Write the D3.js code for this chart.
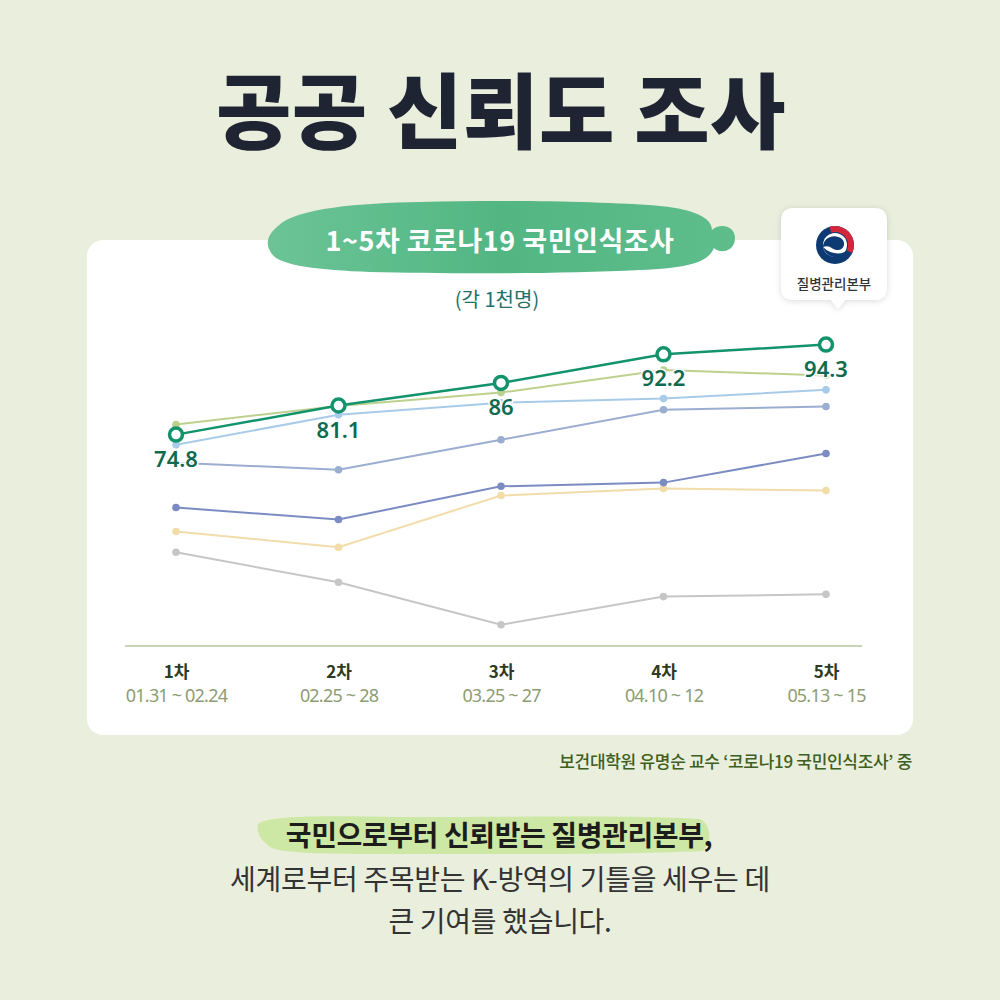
<!DOCTYPE html>
<html>
<head>
<meta charset="utf-8">
<script src="https://cdn.jsdelivr.net/npm/d3@7"></script>
<style>
html,body{margin:0;padding:0;background:#e9eedd;}
svg{display:block;}
</style>
</head>
<body>
<svg id="chart" width="1000" height="1000"></svg>
<script>
// ---------- data ----------
const rounds = ["1차", "2차", "3차", "4차", "5차"];
const dates = ["01.31 ~ 02.24", "02.25 ~ 28", "03.25 ~ 27", "04.10 ~ 12", "05.13 ~ 15"];
const kdca = [74.8, 81.1, 86, 92.2, 94.3];
const seriesLightGreen = [77.0, 81.0, 83.9, 88.8, 87.6];
const seriesLightBlue = [72.6, 79.1, 81.7, 82.6, 84.5];
const seriesSteel = [68.7, 67.2, 73.7, 80.2, 80.9];
const seriesNavy = [59.0, 56.4, 63.6, 64.4, 70.7];
const seriesYellow = [53.8, 50.4, 61.6, 63.1, 62.7];
const seriesGray = [49.3, 42.8, 33.6, 39.7, 40.2];
const yDomain = [29, 100];

const svg = d3.select("#chart");
const KR = "'Noto Sans CJK KR','Noto Sans',sans-serif";

const defs = svg.append("defs");
const sh = defs.append("filter").attr("id", "shadow").attr("x", "-30%").attr("y", "-30%").attr("width", "160%").attr("height", "160%");
sh.append("feDropShadow").attr("dx", 0).attr("dy", 1).attr("stdDeviation", 3)
  .attr("flood-color", "#000000").attr("flood-opacity", 0.15);

// background
svg.append("rect").attr("width", 1000).attr("height", 1000).attr("fill", "#e9eedd");

// title
svg.append("text").attr("x", 501).attr("y", 106)
  .attr("text-anchor", "middle").attr("dominant-baseline", "central")
  .attr("font-family", KR).attr("font-weight", 900).attr("font-size", 82)
  .attr("letter-spacing", 0.5).attr("fill", "#1f2433")
  .text("공공 신뢰도 조사");

// card
svg.append("rect").attr("x", 87).attr("y", 240).attr("width", 826).attr("height", 495)
  .attr("rx", 16).attr("fill", "#ffffff");

// banner (watercolor brush)
const g1 = defs.append("linearGradient").attr("id", "bann").attr("x1", 0).attr("x2", 1).attr("y1", 0).attr("y2", 0);
g1.append("stop").attr("offset", "0").attr("stop-color", "#6cc496");
g1.append("stop").attr("offset", "0.5").attr("stop-color", "#52b683");
g1.append("stop").attr("offset", "1").attr("stop-color", "#5fbd8c");
svg.append("path")
  .attr("d", "M278,226 C296,208 360,203 420,202 C500,200 600,201 660,206 C700,210 712,220 712,230 C720,222 736,226 735,239 C734,252 720,254 714,248 C708,262 690,268 640,270 C560,274 450,274 370,272 C320,270 280,266 272,254 C264,244 268,234 278,226 Z")
  .attr("fill", "url(#bann)");
svg.append("text").attr("x", 500).attr("y", 239)
  .attr("text-anchor", "middle").attr("dominant-baseline", "central")
  .attr("font-family", KR).attr("font-weight", 700).attr("font-size", 27)
  .attr("letter-spacing", 0.5).attr("fill", "#ffffff")
  .text("1~5차 코로나19 국민인식조사");

// logo box
svg.append("path")
  .attr("d", "M794,208 H874 Q887,208 887,221 V287 Q887,300 874,300 H845 L838,309 L831,300 H794 Q781,300 781,287 V221 Q781,208 794,208 Z")
  .attr("fill", "#ffffff")
  .attr("filter", "url(#shadow)");
const lg = svg.append("g").attr("transform", "translate(835,245)");
lg.append("circle").attr("r", 19).attr("fill", "#0e3a73");
lg.append("path").attr("d", d3.arc()({innerRadius: 13, outerRadius: 19, startAngle: -0.3, endAngle: 2.0})).attr("fill", "#d4283a");
lg.append("circle").attr("r", 12).attr("fill", "#ffffff");
lg.append("path").attr("d", "M-12,2 C-12,-8 0,-12 7,-6 C11,-2 9,5 3,5 C-3,5 -5,-1 -12,2 Z").attr("fill", "#0e3a73");
lg.append("path").attr("d", "M-12,2 C-10,10 -2,14 6,12 C10,11 12,8 12,5 C8,10 -4,10 -12,2 Z").attr("fill", "#0e3a73");
svg.append("text").attr("x", 834).attr("y", 283)
  .attr("text-anchor", "middle").attr("dominant-baseline", "central")
  .attr("font-family", KR).attr("font-weight", 500).attr("font-size", 13.5)
  .attr("fill", "#333333").text("질병관리본부");

// subtitle
svg.append("text").attr("x", 497).attr("y", 298)
  .attr("text-anchor", "middle").attr("dominant-baseline", "central")
  .attr("font-family", KR).attr("font-weight", 400).attr("font-size", 20)
  .attr("fill", "#22706c").text("(각 1천명)");

// scales
const x = d3.scalePoint().domain(rounds).range([176, 826]);
const y = d3.scaleLinear().domain(yDomain).range([646, 318.3]);

// axis
const axis = svg.append("g").attr("transform", "translate(0,646)")
  .call(d3.axisBottom(x).tickSize(0).tickPadding(0).tickFormat(() => ""));
axis.select(".domain").attr("d", "M125,0H862").attr("stroke", "#b7c49e").attr("stroke-width", 1.5);
axis.selectAll(".tick").each(function(d, i) {
  const t = d3.select(this);
  t.select("text").remove();
  t.append("text").attr("y", 24).attr("text-anchor", "middle").attr("dominant-baseline", "central")
    .attr("font-family", KR).attr("font-weight", 700).attr("font-size", 17).attr("fill", "#2e3a22")
    .text(d);
  t.append("text").attr("y", 49).attr("text-anchor", "middle").attr("dominant-baseline", "central")
    .attr("font-family", "'Noto Sans',sans-serif").attr("font-weight", 400).attr("font-size", 18)
    .attr("fill", "#8d9c73").attr("letter-spacing", -0.8)
    .text(dates[i]);
});

// other series
const others = [
  {vals: seriesGray, color: "#c6c6c6"},
  {vals: seriesYellow, color: "#f1dcaa"},
  {vals: seriesNavy, color: "#7c8cc3"},
  {vals: seriesSteel, color: "#9badd0"},
  {vals: seriesLightBlue, color: "#a9cbea"},
  {vals: seriesLightGreen, color: "#bdd18e"}
];
const line = d3.line().x((d, i) => x(rounds[i])).y(d => y(d));
others.forEach(s => {
  svg.append("path").attr("d", line(s.vals)).attr("fill", "none")
    .attr("stroke", s.color).attr("stroke-width", 2);
  svg.selectAll(null).data(s.vals).enter().append("circle")
    .attr("cx", (d, i) => x(rounds[i])).attr("cy", d => y(d)).attr("r", 3.8)
    .attr("fill", s.color);
});

// main series
svg.append("path").attr("d", line(kdca)).attr("fill", "none")
  .attr("stroke", "#13936c").attr("stroke-width", 2.5);
svg.selectAll(null).data(kdca).enter().append("circle")
  .attr("cx", (d, i) => x(rounds[i])).attr("cy", d => y(d)).attr("r", 6.5)
  .attr("fill", "#ffffff").attr("stroke", "#13936c").attr("stroke-width", 3.5);
svg.selectAll(null).data(kdca).enter().append("text")
  .attr("x", (d, i) => x(rounds[i])).attr("y", d => y(d) + 23)
  .attr("text-anchor", "middle").attr("dominant-baseline", "central")
  .attr("font-family", "'Noto Sans',sans-serif").attr("font-weight", 600).attr("font-size", 22)
  .attr("fill", "#0f6b4f")
  .attr("stroke", "#ffffff").attr("stroke-width", 3).attr("paint-order", "stroke")
  .text(d => d);

// source
svg.append("text").attr("x", 912).attr("y", 760)
  .attr("text-anchor", "end").attr("dominant-baseline", "central")
  .attr("font-family", KR).attr("font-weight", 500).attr("font-size", 17)
  .attr("fill", "#3f5f22").attr("letter-spacing", -0.3)
  .text("보건대학원 유명순 교수 ‘코로나19 국민인식조사’ 중");

// bottom highlight
svg.append("path")
  .attr("d", "M258,824 C270,815 330,816 400,817 C500,817 640,815 700,819 C712,824 712,846 702,851 C620,855 470,854 380,854 C320,854 285,853 272,848 C262,842 256,834 258,824 Z")
  .attr("fill", "#cde8a4");
svg.append("text").attr("x", 499).attr("y", 834)
  .attr("text-anchor", "middle").attr("dominant-baseline", "central")
  .attr("font-family", KR).attr("font-weight", 700).attr("font-size", 28)
  .attr("letter-spacing", -0.4).attr("fill", "#1c1c1c")
  .text("국민으로부터 신뢰받는 질병관리본부,");
svg.append("text").attr("x", 500).attr("y", 878)
  .attr("text-anchor", "middle").attr("dominant-baseline", "central")
  .attr("font-family", KR).attr("font-weight", 400).attr("font-size", 28)
  .attr("letter-spacing", -0.3).attr("fill", "#333333")
  .text("세계로부터 주목받는 K-방역의 기틀을 세우는 데");
svg.append("text").attr("x", 500).attr("y", 920)
  .attr("text-anchor", "middle").attr("dominant-baseline", "central")
  .attr("font-family", KR).attr("font-weight", 400).attr("font-size", 28)
  .attr("letter-spacing", -0.3).attr("fill", "#333333")
  .text("큰 기여를 했습니다.");
</script>
</body>
</html>
